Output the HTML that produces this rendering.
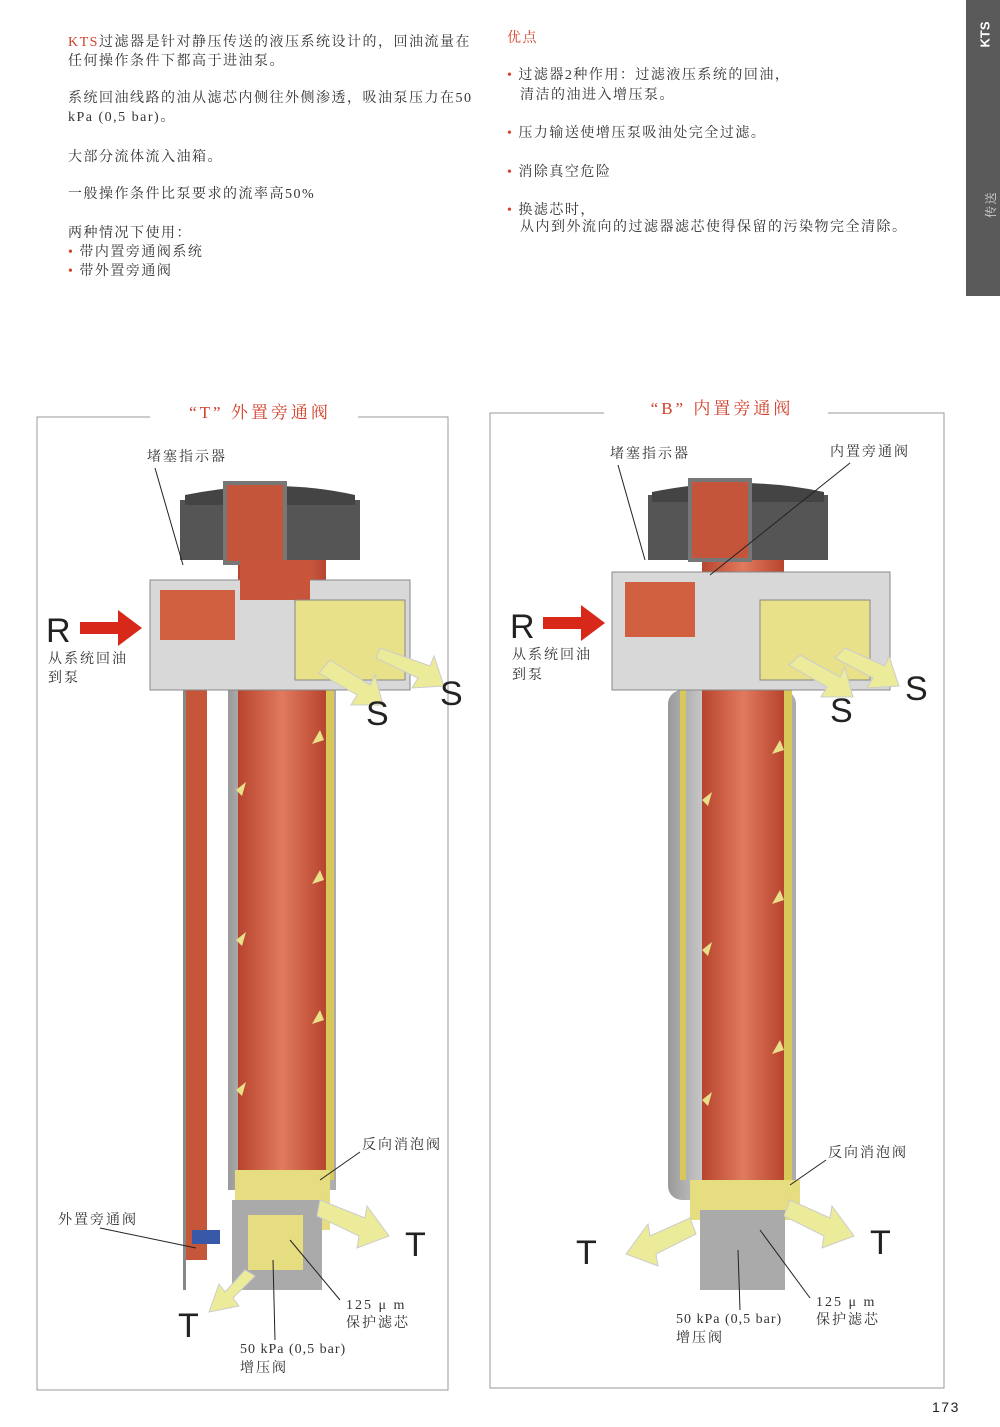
<!DOCTYPE html>
<html><head><meta charset="utf-8"><style>
body{margin:0;background:#fff;}
.pg{position:relative;width:1000px;height:1427px;overflow:hidden;font-family:"Liberation Serif","Noto Serif CJK SC",serif;color:#333;font-size:14px;letter-spacing:1.5px;}
.t{position:absolute;white-space:nowrap;line-height:19px;}
.r{color:#d2402a;}
.b::before{content:"• ";color:#d2402a;}
</style></head><body><div class="pg">
<div style="position:absolute;left:966px;top:0;width:34px;height:296px;background:#5a5a5a;"></div>
<div class="t" style="left:975px;top:28px;transform:rotate(-90deg);transform-origin:center;color:#fff;font-family:'Liberation Sans',sans-serif;font-weight:bold;font-size:13px;width:20px;letter-spacing:0;">KTS</div>
<div class="t" style="left:978px;top:195px;transform:rotate(-90deg);color:#ddd;font-size:12px;">传送</div>

<div class="t" style="left:68px;top:33px;"><span class="r">KTS</span>过滤器是针对静压传送的液压系统设计的，回油流量在<br>任何操作条件下都高于进油泵。</div>
<div class="t" style="left:68px;top:89px;">系统回油线路的油从滤芯内侧往外侧渗透，吸油泵压力在50<br>kPa (0,5 bar)。</div>
<div class="t" style="left:68px;top:148px;">大部分流体流入油箱。</div>
<div class="t" style="left:68px;top:185px;">一般操作条件比泵要求的流率高50%</div>
<div class="t" style="left:68px;top:224px;">两种情况下使用：</div>
<div class="t b" style="left:68px;top:243px;">带内置旁通阀系统</div>
<div class="t b" style="left:68px;top:262px;">带外置旁通阀</div>

<div class="t r" style="left:507px;top:29px;">优点</div>
<div class="t b" style="left:507px;top:66px;">过滤器2种作用：过滤液压系统的回油，</div>
<div class="t" style="left:520px;top:86px;">清洁的油进入增压泵。</div>
<div class="t b" style="left:507px;top:124px;">压力输送使增压泵吸油处完全过滤。</div>
<div class="t b" style="left:507px;top:163px;">消除真空危险</div>
<div class="t b" style="left:507px;top:201px;">换滤芯时，</div>
<div class="t" style="left:520px;top:218px;">从内到外流向的过滤器滤芯使得保留的污染物完全清除。</div>

<svg width="1000" height="1427" style="position:absolute;left:0;top:0" font-family="Liberation Serif,Noto Serif CJK SC,serif">
<defs><linearGradient id="rd" x1="0" x2="1"><stop offset="0" stop-color="#b8442e"/><stop offset=".5" stop-color="#e07a5e"/><stop offset="1" stop-color="#b8442e"/></linearGradient>
<linearGradient id="gy" x1="0" x2="1"><stop offset="0" stop-color="#999"/><stop offset=".5" stop-color="#eee"/><stop offset="1" stop-color="#aaa"/></linearGradient></defs>
<g fill="none" stroke="#999" stroke-width="1">
<path d="M150 417H37V1390H448V417H358"/><path d="M604 413H490V1388H944V413H828"/>
</g>
<text x="260" y="418" text-anchor="middle" fill="#d2402a" font-size="17" letter-spacing="3">“T”  外置旁通阀</text>
<text x="722" y="414" text-anchor="middle" fill="#d2402a" font-size="17" letter-spacing="3">“B”  内置旁通阀</text>

<!-- left filter -->
<rect x="228" y="690" width="108" height="500" fill="url(#gy)"/>
<rect x="238" y="560" width="88" height="630" fill="url(#rd)"/>
<rect x="326" y="690" width="8" height="490" fill="#d8c85a"/>
<rect x="185" y="600" width="22" height="660" fill="#c5563a"/>
<rect x="183" y="600" width="3" height="690" fill="#888"/>
<rect x="192" y="1230" width="28" height="14" fill="#3858a8"/>
<path d="M180 500h180v60h-180z" fill="#555"/>
<path d="M185 495q90 -18 170 0v10h-170z" fill="#444"/>
<path d="M225 483h60v80h-60z" fill="#c4553a" stroke="#777" stroke-width="4"/>
<path d="M150 580h260v110h-260z" fill="#d8d8d8" stroke="#888"/>
<path d="M160 590h75v50h-75z" fill="#d0603f"/>
<path d="M240 560h70v40h-70z" fill="#c8553a"/>
<path d="M295 600h110v80h-110z" fill="#e8e18a" stroke="#888"/>
<path d="M235 1170h95v60h-95z" fill="#e6dc80"/>
<path d="M232 1200h90v90h-90z" fill="#aaa"/>
<path d="M248 1215h55v55h-55z" fill="#e6dc80"/>
<!-- right filter -->
<rect x="668" y="690" width="128" height="510" rx="14" fill="url(#gy)"/>
<rect x="702" y="560" width="82" height="620" fill="url(#rd)"/>
<rect x="784" y="690" width="8" height="490" fill="#d8c85a"/>
<rect x="680" y="690" width="6" height="490" fill="#d8c85a"/>
<path d="M648 495h180v65h-180z" fill="#555"/>
<path d="M652 492q88 -18 172 0v10h-172z" fill="#444"/>
<path d="M690 480h60v80h-60z" fill="#c4553a" stroke="#777" stroke-width="4"/>
<path d="M612 572h278v118h-278z" fill="#d8d8d8" stroke="#888"/>
<path d="M625 582h70v55h-70z" fill="#d0603f"/>
<path d="M760 600h110v80h-110z" fill="#e8e18a" stroke="#888"/>
<path d="M690 1180h110v40h-110z" fill="#e6dc80"/>
<path d="M700 1210h85v80h-85z" fill="#aaa"/>
<!-- small flow arrows -->
<g fill="#e8e18a">
<path d="M236 790l10 -8-4 14z"/><path d="M236 940l10 -8-4 14z"/><path d="M236 1090l10 -8-4 14z"/>
<path d="M320 730l-8 14 12-4z"/><path d="M320 870l-8 14 12-4z"/><path d="M320 1010l-8 14 12-4z"/>
<path d="M702 800l10 -8-4 14z"/><path d="M702 950l10 -8-4 14z"/><path d="M702 1100l10 -8-4 14z"/>
<path d="M780 740l-8 14 12-4z"/><path d="M780 890l-8 14 12-4z"/><path d="M780 1040l-8 14 12-4z"/>
</g>
<!-- red arrows -->
<path d="M80 622h38v-12l24 18-24 18v-12h-38z" fill="#d8281a"/>
<path d="M543 617h38v-12l24 18-24 18v-12h-38z" fill="#d8281a"/>
<!-- yellow arrows -->
<g fill="#eceb9a" stroke="#ccc">
<path d="M380 648l50 18 4-10 10 30-32 2 6-10-42-20z"/>
<path d="M330 660l40 25 5-10 8 30-32 0 6-10-38-22z"/>
<path d="M320 1200l45 18 2-12 22 30-32 12 2-12-42-20z"/>
<path d="M245 1270l-20 22-6-8-10 28 30-6-6-8 22-22z"/>
<path d="M790 1200l40 18 2-12 22 30-32 12 2-12-40-20z"/>
<path d="M690 1218l-40 18-2-12-22 30 32 12-2-12 40-20z"/>
<path d="M800 655l40 22 5-10 8 30-32 0 6-10-38-22z"/>
<path d="M845 648l40 18 4-10 10 30-32 2 6-10-38-20z"/>
</g>
<g font-family="Liberation Sans,sans-serif" font-size="34" fill="#222">
<text x="46" y="642">R</text><text x="510" y="638">R</text>
<text x="366" y="725">S</text><text x="440" y="705">S</text>
<text x="830" y="722">S</text><text x="905" y="700">S</text>
<text x="405" y="1256">T</text><text x="178" y="1337">T</text>
<text x="576" y="1264">T</text><text x="870" y="1254">T</text>
</g>
<g font-size="14" fill="#333" letter-spacing="2">
<text x="48" y="663">从系统回油</text><text x="48" y="682">到泵</text>
<text x="512" y="659">从系统回油</text><text x="512" y="679">到泵</text>
<text x="147" y="461">堵塞指示器</text><text x="610" y="458">堵塞指示器</text>
<text x="830" y="456">内置旁通阀</text>
<text x="362" y="1149">反向消泡阀</text><text x="828" y="1157">反向消泡阀</text>
<text x="58" y="1224">外置旁通阀</text>
<text x="346" y="1309">125 μ m</text><text x="346" y="1327">保护滤芯</text>
<text x="240" y="1353" letter-spacing="1">50 kPa (0,5 bar)</text><text x="240" y="1372">增压阀</text>
<text x="816" y="1306">125 μ m</text><text x="816" y="1324">保护滤芯</text>
<text x="676" y="1323" letter-spacing="1">50 kPa (0,5 bar)</text><text x="676" y="1342">增压阀</text>
</g>
<g stroke="#222" stroke-width="1">
<line x1="155" y1="468" x2="183" y2="565"/><line x1="618" y1="465" x2="645" y2="560"/>
<line x1="850" y1="463" x2="710" y2="575"/>
<line x1="360" y1="1152" x2="320" y2="1180"/><line x1="826" y1="1160" x2="790" y2="1185"/>
<line x1="100" y1="1228" x2="196" y2="1248"/>
<line x1="340" y1="1300" x2="290" y2="1240"/><line x1="275" y1="1340" x2="273" y2="1260"/>
<line x1="810" y1="1298" x2="760" y2="1230"/><line x1="740" y1="1310" x2="738" y2="1250"/>
</g>
<text x="932" y="1412" font-family="Liberation Sans,sans-serif" font-size="14" fill="#222">173</text>
</svg>
</div></body></html>
